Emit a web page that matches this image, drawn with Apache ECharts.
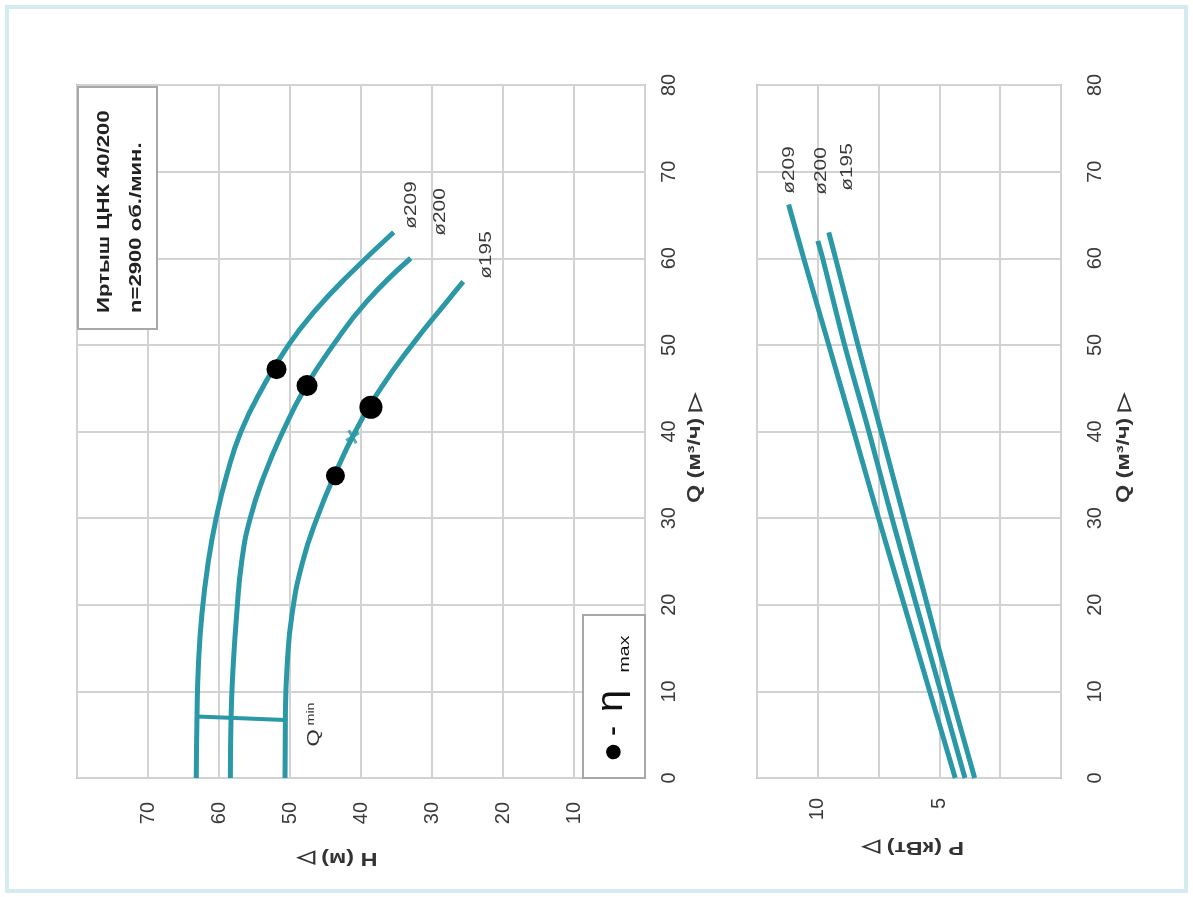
<!DOCTYPE html>
<html>
<head>
<meta charset="utf-8">
<script src="https://cdn.jsdelivr.net/npm/echarts@6/dist/echarts.min.js"></script>
<style>
html,body{margin:0;padding:0;background:#fff;}
#c{width:1193px;height:897px;}
</style>
</head>
<body>
<div id="c"></div>
<script>
// ---------- DATA ----------
// Head curves H(Q): Q in m3/h, H in m
const qH209 = [0, 7, 13, 19, 25, 30, 35, 40, 45, 50, 54, 58, 63];
const hH209 = [63.2, 63.1, 62.9, 62.4, 61.5, 60.4, 58.9, 56.9, 53.9, 50.2, 46.4, 41.8, 35.4];
const qH200 = [0, 7, 13, 19, 25, 30, 35, 40, 45, 50, 55, 60];
const hH200 = [58.4, 58.3, 58.0, 57.5, 56.8, 55.6, 53.6, 51.0, 47.9, 43.9, 39.2, 33.0];
const qH195 = [0, 7, 13, 19, 25, 30, 35, 40, 45, 50, 55, 57.3];
const hH195 = [50.7, 50.65, 50.4, 49.7, 48.2, 46.2, 43.7, 40.8, 37.2, 32.8, 27.9, 25.6];
// Q min segment
const qMinQ = [7.1, 6.7];
const qMinH = [63.1, 50.7];
// eta max points
const etaQ = [47.2, 45.3, 42.8, 34.9];
const etaH = [51.9, 47.6, 38.6, 43.6];
// cross mark on ø195
const crossQ = [39.4];
const crossH = [41.2];
// Power curves P(Q): kW
const qP209 = [0, 10, 20, 30, 40, 50, 60, 66.2];
const pP209 = [4.35, 5.4, 6.45, 7.5, 8.52, 9.55, 10.58, 11.2];
const qP200 = [0, 10, 20, 30, 40, 50, 60, 62];
const pP200 = [3.95, 4.95, 5.95, 6.95, 7.9, 8.9, 9.8, 10.0];
const qP195 = [0, 10, 20, 30, 40, 50, 60, 63];
const pP195 = [3.55, 4.55, 5.5, 6.45, 7.4, 8.35, 9.27, 9.55];
// Tick label sets
const hTicksShown = [10, 20, 30, 40, 50, 60, 70];
const pTicksShown = [5, 10];
// Texts
const curveNames = ['ø209', 'ø200', 'ø195'];
const titleLine1 = 'Иртыш ЦНК 40/200';
const titleLine2 = 'n=2900 об./мин.';
const hAxisName = 'H (м) ▷';
const qAxisName = 'Q (м³/ч) ▷';
const pAxisName = 'P (кВт) ▷';

// ---------- STYLE ----------
const teal = '#2a98a6';
const gridCol = '#d2d2d2';
const borderCol = '#b4b4b4';
const labCol = '#3a3a3a';
const FONT = '"Liberation Sans", Arial, sans-serif';
const etaSizes = [20, 21, 23, 19];
const ST = 1.3; // text stretch along reading direction (scan look)

function zip(xs, ys) { return xs.map((x, i) => [x, ys[i]]); }

const chart = echarts.init(document.getElementById('c'), null, {renderer: 'canvas'});

const axisCommon = {
  type: 'value', axisLine: {show: false}, axisTick: {show: false},
  splitLine: {show: true, lineStyle: {color: gridCol, width: 2}}
};

function rtext(x, y, text, size, opts) {
  opts = opts || {};
  return {
    type: 'text', x: x, y: y, rotation: opts.rot === undefined ? Math.PI / 2 : opts.rot,
    scaleX: opts.sx || ST, z: 12,
    style: {text: text, fill: opts.color || labCol, font: (opts.bold ? 'bold ' : '') + size + 'px ' + FONT,
      align: opts.align || 'center', verticalAlign: 'middle'}
  };
}

const option = {
  animation: false,
  backgroundColor: '#fff',
  grid: [
    {left: 77, top: 85, width: 568, height: 693, show: true, borderColor: borderCol, borderWidth: 2, backgroundColor: 'transparent'},
    {left: 757, top: 85, width: 304, height: 693, show: true, borderColor: borderCol, borderWidth: 2, backgroundColor: 'transparent'}
  ],
  xAxis: [
    Object.assign({}, axisCommon, {gridIndex: 0, min: 0, max: 80, interval: 10, inverse: true,
      axisLabel: {rotate: 90, margin: 24, fontSize: 20, color: labCol, fontFamily: FONT,
        formatter: v => hTicksShown.indexOf(v) >= 0 ? String(v) : ''}}),
    Object.assign({}, axisCommon, {gridIndex: 1, min: 0, max: 12.5, interval: 2.5, inverse: true,
      axisLabel: {rotate: 90, margin: 20, fontSize: 20, color: labCol, fontFamily: FONT,
        formatter: v => pTicksShown.indexOf(v) >= 0 ? String(v) : ''}})
  ],
  yAxis: [
    Object.assign({}, axisCommon, {gridIndex: 0, min: 0, max: 80, interval: 10, position: 'right',
      axisLabel: {rotate: 90, margin: 14, fontSize: 20, color: labCol, fontFamily: FONT}}),
    Object.assign({}, axisCommon, {gridIndex: 1, min: 0, max: 80, interval: 10, position: 'right',
      axisLabel: {rotate: 90, margin: 24, fontSize: 20, color: labCol, fontFamily: FONT}})
  ],
  series: [
    {type: 'line', xAxisIndex: 0, yAxisIndex: 0, data: zip(hH209, qH209), smooth: 0.5, symbol: 'none', lineStyle: {color: teal, width: 5}},
    {type: 'line', xAxisIndex: 0, yAxisIndex: 0, data: zip(hH200, qH200), smooth: 0.5, symbol: 'none', lineStyle: {color: teal, width: 5}},
    {type: 'line', xAxisIndex: 0, yAxisIndex: 0, data: zip(hH195, qH195), smooth: 0.5, symbol: 'none', lineStyle: {color: teal, width: 5}},
    {type: 'line', xAxisIndex: 0, yAxisIndex: 0, data: zip(qMinH, qMinQ), symbol: 'none', lineStyle: {color: teal, width: 4}},
    {type: 'scatter', xAxisIndex: 0, yAxisIndex: 0, data: zip(crossH, crossQ), z: 4,
      symbol: 'path://M4,0 L6,0 L6,4 L10,4 L10,6 L6,6 L6,10 L4,10 L4,6 L0,6 L0,4 L4,4 Z', symbolSize: 15, symbolRotate: 30,
      itemStyle: {color: teal}},
    {type: 'scatter', xAxisIndex: 0, yAxisIndex: 0, data: zip(etaH, etaQ), z: 5,
      symbol: 'circle', symbolSize: (v, p) => etaSizes[p.dataIndex], itemStyle: {color: '#000', opacity: 1}},
    {type: 'line', xAxisIndex: 1, yAxisIndex: 1, data: zip(pP209, qP209), smooth: 0.3, symbol: 'none', lineStyle: {color: teal, width: 5}},
    {type: 'line', xAxisIndex: 1, yAxisIndex: 1, data: zip(pP200, qP200), smooth: 0.3, symbol: 'none', lineStyle: {color: teal, width: 5}},
    {type: 'line', xAxisIndex: 1, yAxisIndex: 1, data: zip(pP195, qP195), smooth: 0.3, symbol: 'none', lineStyle: {color: teal, width: 5}}
  ],
  graphic: [
    // outer frame
    {type: 'rect', shape: {x: 7, y: 7, width: 1179, height: 884}, z: 1,
      style: {fill: 'none', stroke: '#d4ebef', lineWidth: 4}},
    // title box
    {type: 'rect', shape: {x: 78, y: 87, width: 79, height: 242}, z: 10,
      style: {fill: '#fff', stroke: '#a8a8a8', lineWidth: 2}},
    rtext(104, 313, titleLine1, 17, {bold: true, align: 'left', color: '#222'}),
    rtext(136, 313, titleLine2, 17, {bold: true, align: 'left', color: '#222'}),
    // eta legend box
    {type: 'rect', shape: {x: 583, y: 615, width: 62, height: 163}, z: 10,
      style: {fill: '#fff', stroke: '#a8a8a8', lineWidth: 2}},
    rtext(614, 752, '●', 34, {color: '#000', sx: 1}),
    rtext(613, 731, '-', 22, {bold: true, color: '#111'}),
    rtext(612, 701, 'η', 36, {color: '#111', sx: 1.1}),
    rtext(625, 654, 'max', 15, {color: '#111'}),
    // Q min label
    rtext(314, 738, 'Q', 17, {color: '#333'}),
    rtext(311, 714, 'min', 11, {color: '#333'}),
    // curve names (top)
    rtext(412, 205, curveNames[0], 16, {}),
    rtext(441, 212, curveNames[1], 16, {}),
    rtext(487, 255, curveNames[2], 16, {}),
    // curve names (bottom)
    rtext(790, 170, curveNames[0], 16, {}),
    rtext(822, 171, curveNames[1], 16, {}),
    rtext(848, 167, curveNames[2], 16, {}),
    {type: 'line', shape: {x1: 818, y1: 198, x2: 818, y2: 240}, z: 3, style: {stroke: '#bbb', lineWidth: 1}},
    // axis names
    rtext(337, 858, hAxisName, 18, {bold: true, rot: Math.PI, color: '#333'}),
    rtext(913, 847, pAxisName, 18, {bold: true, rot: Math.PI, color: '#333'}),
    rtext(695, 448, qAxisName, 18, {bold: true, color: '#333'}),
    rtext(1124, 448, qAxisName, 18, {bold: true, color: '#333'})
  ]
};
chart.setOption(option);
</script>
</body>
</html>
